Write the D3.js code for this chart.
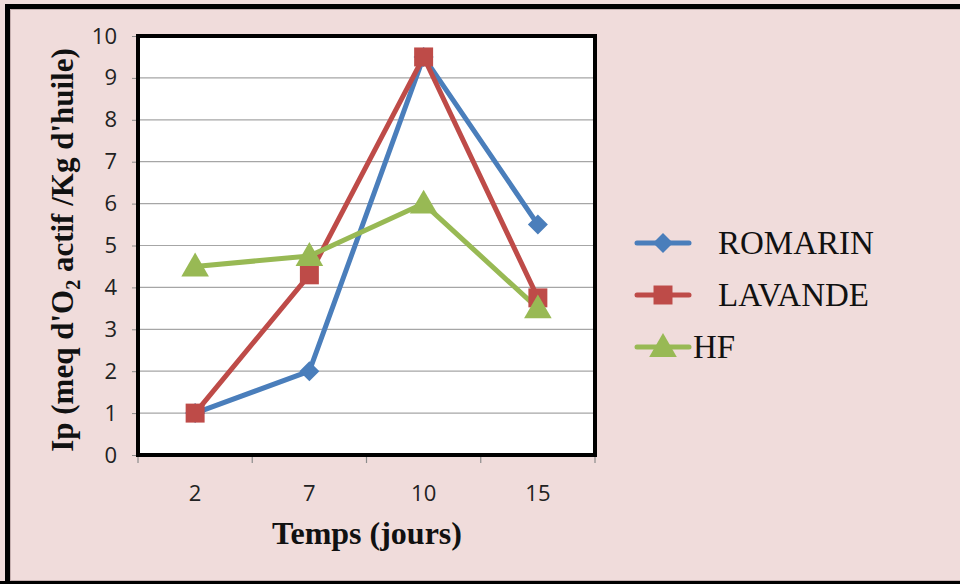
<!DOCTYPE html>
<html><head><meta charset="utf-8">
<script src="https://cdn.jsdelivr.net/npm/d3@7"></script>
<style>body{margin:0;background:#fff;}svg{display:block;}</style>
</head><body>
<script>
const categories = ["2", "7", "10", "15"];
const romarin = [1, 2, 9.5, 5.5];
const lavande = [1, 4.3, 9.5, 3.75];
const hf = [4.5, 4.75, 6, 3.5];
const yTicks = [0,1,2,3,4,5,6,7,8,9,10];
const seriesNames = ["ROMARIN", "LAVANDE", "HF"];

const W = 960, H = 584;
const svg = d3.select("body").append("svg").attr("width", W).attr("height", H);

// background + frame
svg.append("rect").attr("x",0).attr("y",0).attr("width",W).attr("height",H).attr("fill","#f0dcdb");
svg.append("path").attr("d","M7.5,584 V6.5 H960").attr("fill","none").attr("stroke","#000").attr("stroke-width",5);
svg.append("path").attr("d","M10.5,584 V9.5 H960").attr("fill","none").attr("stroke","#c6b0b0").attr("stroke-width",1);
svg.append("line").attr("x1",0).attr("x2",W).attr("y1",582.5).attr("y2",582.5).attr("stroke","#000").attr("stroke-width",3);
svg.append("line").attr("x1",10).attr("x2",W).attr("y1",580.5).attr("y2",580.5).attr("stroke","#c6b0b0").attr("stroke-width",1);

const L = 138, R = 595, T = 36, B = 455;
const x = d3.scaleBand().domain(categories).range([L, R]);
const y = d3.scaleLinear().domain([0, 10]).range([B, T]);

svg.append("rect").attr("x",L).attr("y",T).attr("width",R-L).attr("height",B-T).attr("fill","#fff");

// grid
svg.append("g").selectAll("line").data(yTicks.filter(d=>d>0&&d<10)).join("line")
  .attr("x1",L).attr("x2",R).attr("y1",d=>y(d)).attr("y2",d=>y(d))
  .attr("stroke","#a6a6a6").attr("stroke-width",1.2);

// y axis
const yAxis = svg.append("g").attr("transform",`translate(${L},0)`)
  .call(d3.axisLeft(y).tickValues(yTicks).tickSize(6).tickPadding(15).tickFormat(d3.format("d")));
yAxis.select(".domain").remove();
yAxis.selectAll("line").attr("stroke","#8c8c8c");
yAxis.selectAll("text").attr("font-family","Open Sans, sans-serif").attr("font-size",22).attr("fill","#222");

// x axis
const xAxis = svg.append("g").attr("transform",`translate(0,${B})`)
  .call(d3.axisBottom(x).tickSize(0).tickPadding(30));
xAxis.select(".domain").remove();
xAxis.selectAll("text").attr("font-family","Open Sans, sans-serif").attr("font-size",22).attr("fill","#222");
const bounds = categories.map(c=>x(c)).concat([x.range()[1]]);
svg.append("g").selectAll("line").data(bounds).join("line")
  .attr("x1",d=>d).attr("x2",d=>d).attr("y1",B).attr("y2",B+8)
  .attr("stroke","#8c8c8c").attr("stroke-width",1.2);

// plot frame
svg.append("rect").attr("x",L).attr("y",T).attr("width",R-L).attr("height",B-T)
  .attr("fill","none").attr("stroke","#000").attr("stroke-width",4);

const colors = ["#4a7ebb", "#be4b48", "#98b954"];
const data = [romarin, lavande, hf];
const shapes = [d3.symbolSquare, d3.symbolSquare, d3.symbolTriangle];
const sizes = [200, 360, 330];
const rot = [45, 0, 0];
const dy = [0, 0, 2];
const line = d3.line().x((d,i)=>x(categories[i])+x.bandwidth()/2).y(d=>y(d));

data.forEach((vals, s) => {
  svg.append("path").datum(vals).attr("d", line).attr("fill","none")
    .attr("stroke", colors[s]).attr("stroke-width", 5).attr("stroke-linejoin","round").attr("stroke-linecap","round");
});
data.forEach((vals, s) => {
  svg.append("g").selectAll("path").data(vals).join("path")
    .attr("d", d3.symbol().type(shapes[s]).size(sizes[s]))
    .attr("transform",(d,i)=>`translate(${x(categories[i])+x.bandwidth()/2},${y(d) + dy[s]}) rotate(${rot[s]})`)
    .attr("fill", colors[s]);
});

// axis titles
svg.append("text").attr("x", 367).attr("y", 544).attr("text-anchor","middle")
  .attr("font-family","Liberation Serif, Times New Roman, serif").attr("font-weight","bold")
  .attr("font-size",32).attr("fill","#111").text("Temps (jours)");

const yt = svg.append("text").attr("transform","translate(73,250) rotate(-90)").attr("text-anchor","middle")
  .attr("font-family","Liberation Serif, Times New Roman, serif").attr("font-weight","bold")
  .attr("font-size",31).attr("fill","#111");
yt.append("tspan").text("Ip (meq d'O");
yt.append("tspan").attr("font-size",20).attr("dy",7).text("2");
yt.append("tspan").attr("dy",-7).text(" actif /Kg d'huile)");

// legend
const leg = svg.append("g");
seriesNames.forEach((n, i) => {
  const ly = 243 + i*52;
  leg.append("line").attr("x1",637).attr("x2",689).attr("y1",ly).attr("y2",ly)
    .attr("stroke",colors[i]).attr("stroke-width",5).attr("stroke-linecap","round");
  leg.append("path").attr("d", d3.symbol().type(shapes[i]).size(sizes[i]))
    .attr("transform",`translate(663,${ly + dy[i]}) rotate(${rot[i]})`).attr("fill",colors[i]);
  leg.append("text").attr("x", i===2 ? 693 : 718).attr("y", ly+11)
    .attr("font-family","Liberation Serif, Times New Roman, serif").attr("font-size",33).attr("fill","#111")
    .text(n);
});
</script>
</body></html>
